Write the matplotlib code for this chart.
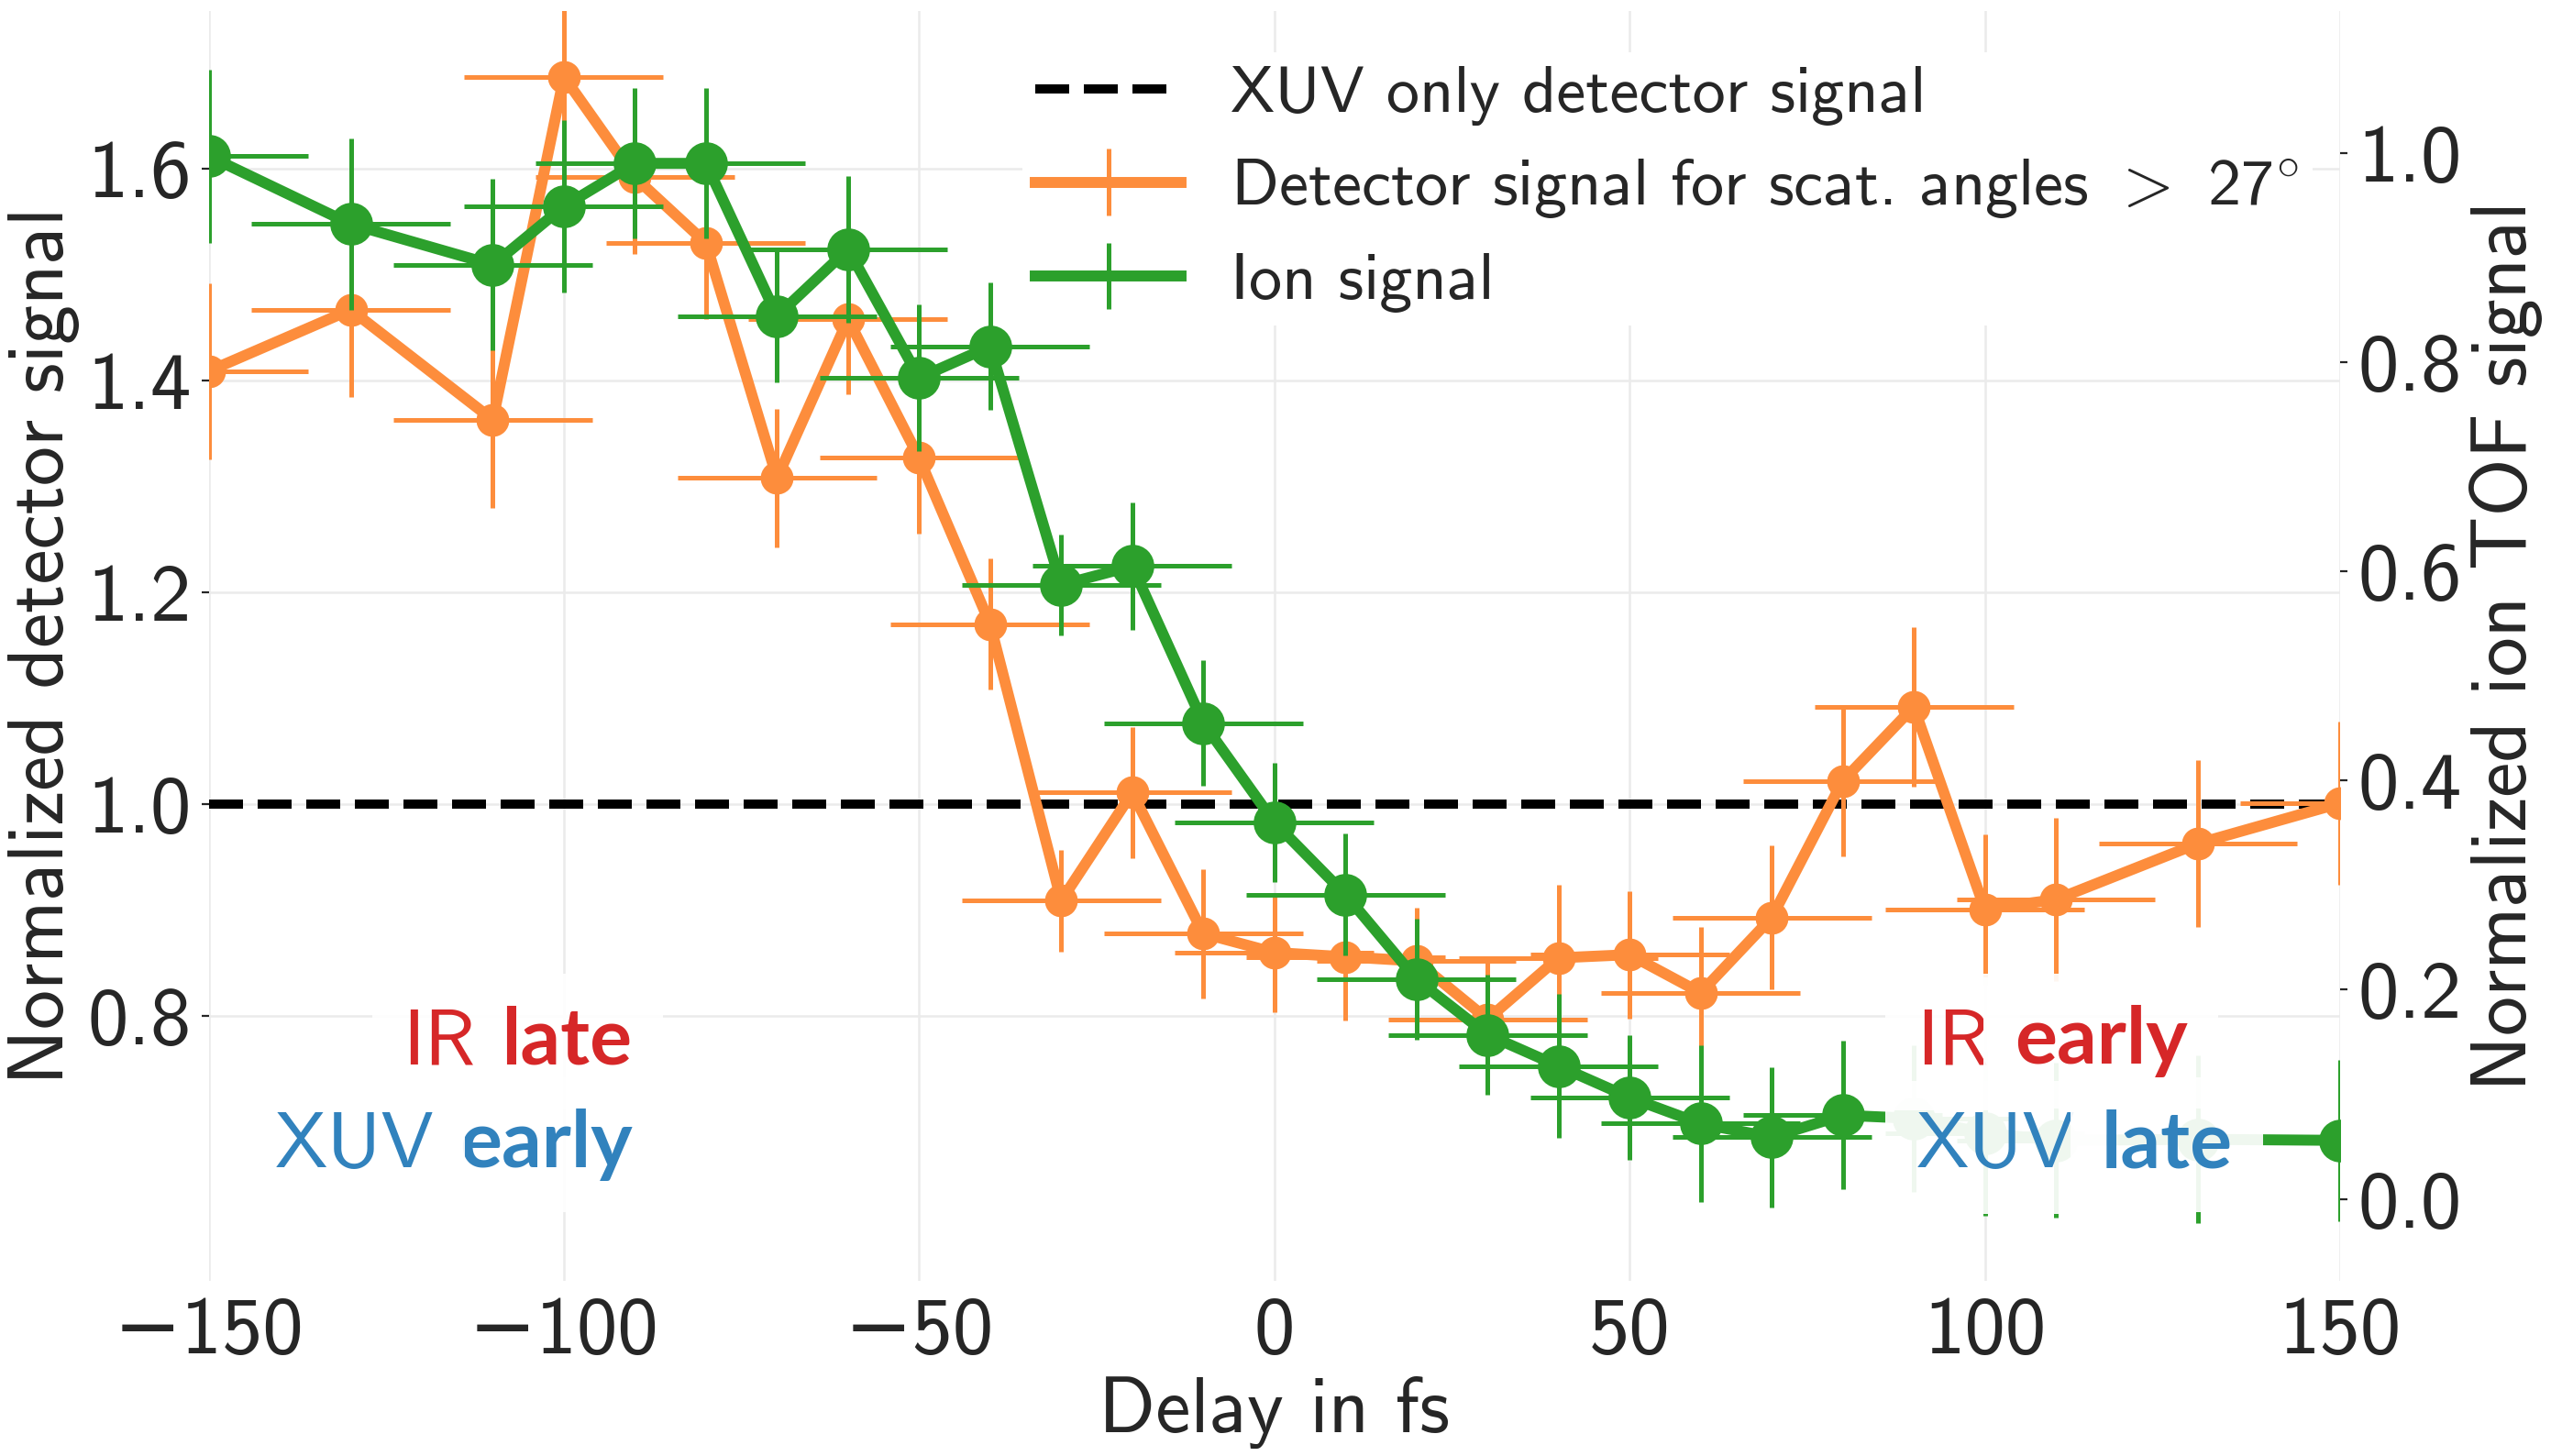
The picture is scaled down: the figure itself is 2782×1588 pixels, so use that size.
import matplotlib
matplotlib.use('Agg')
import matplotlib.pyplot as plt

# delay values (fs), same grid for both curves
delay = [-150, -130, -110, -100, -90, -80, -70, -60, -50, -40, -30, -20, -10,
         0, 10, 20, 30, 40, 50, 60, 70, 80, 90, 100, 110, 130, 150]
delay_err = [14] * len(delay)

# detector signal for scattering angles > 27 deg (left axis)
det = [1.409, 1.467, 1.363, 1.687, 1.592, 1.530, 1.308, 1.458, 1.327, 1.170,
       0.909, 1.011, 0.878, 0.860, 0.856, 0.852, 0.797, 0.855, 0.858, 0.822,
       0.893, 1.022, 1.092, 0.901, 0.910, 0.963, 1.001]
det_err = [0.083, 0.082, 0.083, 0.075, 0.072, 0.072, 0.065, 0.071, 0.071, 0.062,
           0.048, 0.062, 0.061, 0.056, 0.060, 0.050, 0.055, 0.069, 0.060, 0.062,
           0.068, 0.071, 0.075, 0.071, 0.077, 0.079, 0.077]

# ion TOF signal (right axis)
ion = [0.997, 0.932, 0.893, 0.949, 0.990, 0.990, 0.844, 0.908, 0.785, 0.815,
       0.587, 0.605, 0.455, 0.360, 0.291, 0.210, 0.157, 0.127, 0.097, 0.072,
       0.059, 0.080, 0.077, 0.063, 0.056, 0.057, 0.056]
ion_err = [0.083, 0.082, 0.082, 0.082, 0.072, 0.072, 0.063, 0.070, 0.070, 0.061,
           0.048, 0.061, 0.060, 0.057, 0.058, 0.058, 0.057, 0.069, 0.060, 0.075,
           0.067, 0.071, 0.070, 0.079, 0.074, 0.080, 0.077]

xuv_only = 1.0

x_ticks = [-150, -100, -50, 0, 50, 100, 150]
left_ticks = [0.8, 1.0, 1.2, 1.4, 1.6]
right_ticks = [0.0, 0.2, 0.4, 0.6, 0.8, 1.0]

ORANGE = '#fd8d3c'
GREEN = '#2ca02c'
RED = '#d62728'
BLUE = '#3182bd'
TXT = '#262626'

plt.rcParams['font.family'] = ['cmss10', 'DejaVu Sans']
plt.rcParams['mathtext.fontset'] = 'cm'
plt.rcParams['axes.unicode_minus'] = True
plt.rcParams['text.color'] = TXT
plt.rcParams['axes.labelcolor'] = TXT
plt.rcParams['xtick.color'] = TXT
plt.rcParams['ytick.color'] = TXT

FS = 32      # tick labels
LFS = 31     # axis labels, annotations

fig = plt.figure(figsize=(13.91, 7.94), dpi=200)
ax = fig.add_axes([0.0818, 0.1203, 0.8355, 0.8721])
ax2 = ax.twinx()

dash = ax.axhline(xuv_only, color='black', ls='--', lw=3.6, zorder=2)

eb1 = ax.errorbar(delay, det, xerr=delay_err, yerr=det_err, fmt='-',
                  color=ORANGE, lw=4.3, elinewidth=1.8, capsize=0, zorder=3)
ax.plot(delay, det, 'o', color=ORANGE, ms=11.9, zorder=4)

eb2 = ax2.errorbar(delay, ion, xerr=delay_err, yerr=ion_err, fmt='-',
                   color=GREEN, lw=4.3, elinewidth=1.8, capsize=0, zorder=3)
ax2.plot(delay, ion, 'o', color=GREEN, ms=15.8, zorder=4)

ax.set_xlim(-150, 150)
ax.set_ylim(0.550, 1.749)
ax2.set_ylim(-0.0783, 1.1356)
ax.set_xticks(x_ticks)
ax.set_yticks(left_ticks)
ax2.set_yticks(right_ticks)

for a in (ax, ax2):
    for s in a.spines.values():
        s.set_visible(False)
ax.grid(True, color='#ebebeb', lw=0.9)
ax.set_axisbelow(True)
ax2.grid(False)

ax.tick_params(axis='x', length=0, pad=6, labelsize=FS)
ax.tick_params(axis='y', length=2.9, width=0.8, pad=4, labelsize=FS)
ax2.tick_params(axis='y', length=2.9, width=0.8, pad=4, labelsize=FS)

ax.set_xlabel('Delay in fs', fontsize=LFS, labelpad=3)
ax.set_ylabel('Normalized detector signal', fontsize=LFS, labelpad=3)
ax2.set_ylabel('Normalized ion TOF signal', fontsize=LFS, labelpad=3)

leg = ax2.legend([dash, eb1, eb2],
                 ['XUV only detector signal',
                  r'Detector signal for scat. angles $>$ 27$^{\circ}$',
                  'Ion signal'],
                 loc='upper left', bbox_to_anchor=(0.3817, 0.9675),
                 borderaxespad=0, borderpad=0.2, fontsize=26, frameon=True,
                 framealpha=1, edgecolor='none', facecolor='white',
                 fancybox=False, labelspacing=0.48, handlelength=2.2,
                 handletextpad=0.75)

# "IR / XUV" annotations, plain word + bold word on a common baseline
box = dict(facecolor='white', edgecolor='none', alpha=0.93, pad=12)
BOLD = dict(family='Lato', weight='bold')


def label_right(xa, ya, plain, bold, color):
    b = ax2.text(xa, ya, bold, transform=ax2.transAxes, ha='right',
                 va='baseline', fontsize=LFS, color=color, zorder=10,
                 bbox=box, **BOLD)
    ax2.annotate(plain, xy=(0, ya), xycoords=(b, 'axes fraction'),
                 xytext=(-10, 0), textcoords='offset points', ha='right',
                 va='baseline', fontsize=LFS, color=color, zorder=10, bbox=box)


def label_left(xa, ya, plain, bold, color):
    p = ax2.text(xa, ya, plain, transform=ax2.transAxes, ha='left',
                 va='baseline', fontsize=LFS, color=color, zorder=10, bbox=box)
    ax2.annotate(bold, xy=(1, ya), xycoords=(p, 'axes fraction'),
                 xytext=(10, 0), textcoords='offset points', ha='left',
                 va='baseline', fontsize=LFS, color=color, zorder=10,
                 bbox=box, **BOLD)


label_right(0.1989, 0.1711, 'IR', 'late', RED)
label_right(0.1989, 0.0895, 'XUV', 'early', BLUE)
label_left(0.8012, 0.1711, 'IR', 'early', RED)
label_left(0.8012, 0.0895, 'XUV', 'late', BLUE)

fig.savefig('out.png', dpi=200)
